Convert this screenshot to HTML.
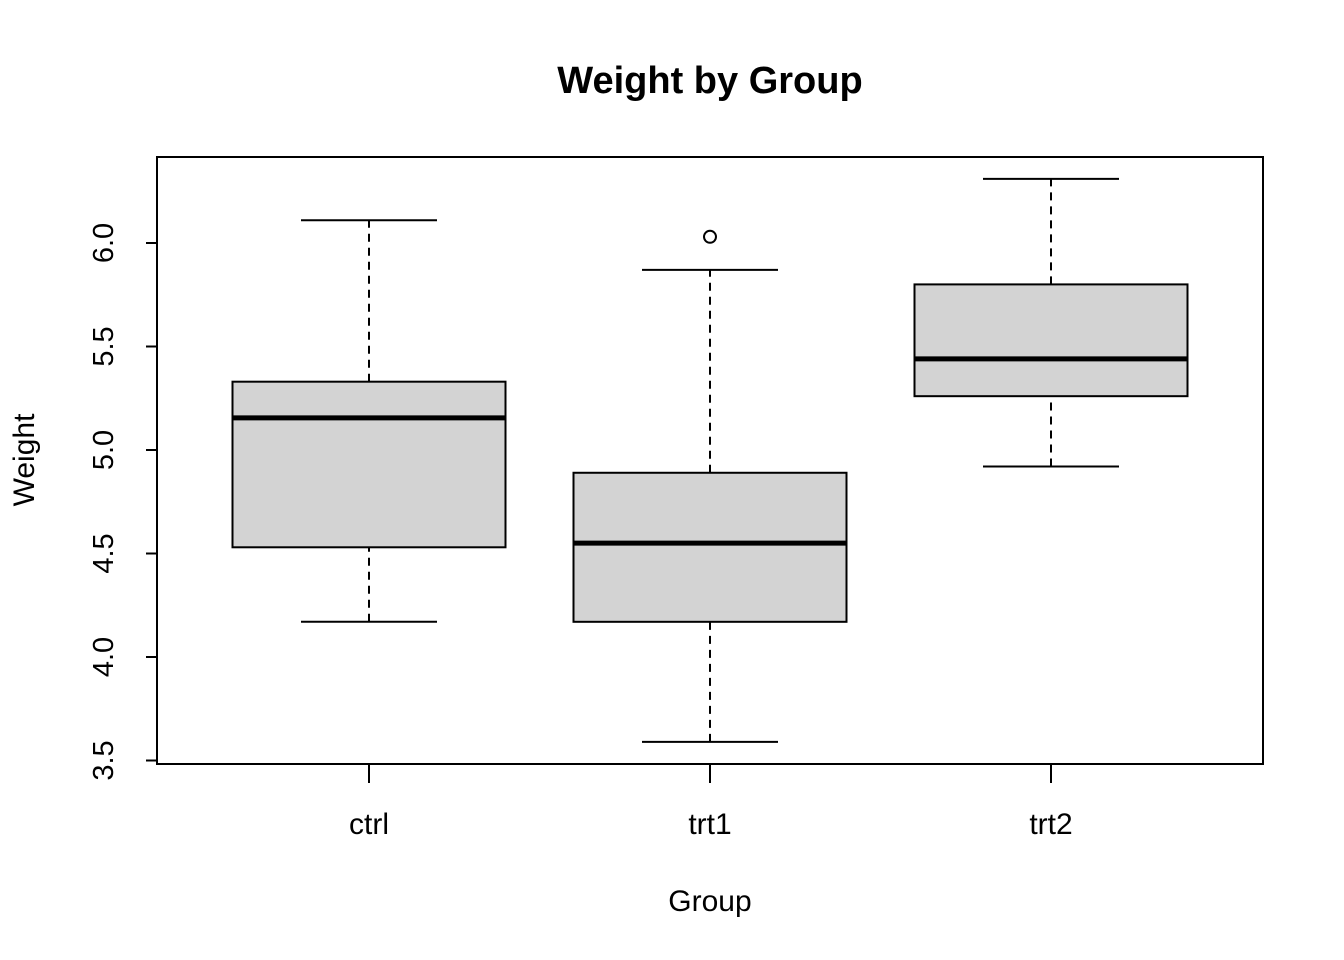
<!DOCTYPE html>
<html><head><meta charset="utf-8"><style>
html,body{margin:0;padding:0;background:#fff;}
svg{display:block;font-family:"Liberation Sans",Arial,sans-serif;}
</style></head><body>
<svg id="chart" width="1344" height="960" xmlns="http://www.w3.org/2000/svg">
<text x="710" y="93" text-anchor="middle" font-size="38" font-weight="bold">Weight by Group</text>
<rect x="157" y="157" width="1106" height="607" fill="none" stroke="#000" stroke-width="2"/>
<text x="710" y="911" text-anchor="middle" font-size="30">Group</text>
<text transform="translate(34,460) rotate(-90)" text-anchor="middle" font-size="30">Weight</text>
<g id="marks"></g>
</svg>
<script>
const categories = ["ctrl","trt1","trt2"];
const whiskerLow = [4.17, 3.59, 4.92];
const q1 = [4.53, 4.17, 5.26];
const medians = [5.155, 4.55, 5.44];
const q3 = [5.33, 4.89, 5.80];
const whiskerHigh = [6.11, 5.87, 6.31];
const outlierGroup = [1];
const outlierValue = [6.03];
const yTicks = [3.5, 4.0, 4.5, 5.0, 5.5, 6.0];
const yTickLabels = ["3.5","4.0","4.5","5.0","5.5","6.0"];

const NS = "http://www.w3.org/2000/svg";
const g = document.getElementById("marks");
function y(v){ return 657 - (v - 4) * 207; }
function x(i){ return 369 + i * 341; }
function mk(tag, attrs){ const e = document.createElementNS(NS, tag); for (const k in attrs) e.setAttribute(k, attrs[k]); g.appendChild(e); return e; }

yTicks.forEach((t, i) => {
  const l = mk("line", {x1:157, x2:146, y1:y(t), y2:y(t), stroke:"#000", "stroke-width":2});
  
  
  const tx = mk("text", {transform:`translate(113,${y(t)}) rotate(-90)`, "text-anchor":"middle", "font-size":29});
  tx.textContent = yTickLabels[i];
  
  
});

categories.forEach((c, i) => {
  const cx = x(i), hw = 136.5, cw = 68;
  const tk = mk("line", {x1:cx, x2:cx, y1:764, y2:783, stroke:"#000", "stroke-width":2});
  
  
  const lb = mk("text", {x:cx, y:834, "text-anchor":"middle", "font-size":30});
  lb.textContent = c;
  
  
  const w1 = mk("line", {x1:cx, x2:cx, y1:y(whiskerLow[i]), y2:y(q1[i]), stroke:"#000", "stroke-width":2, "stroke-dasharray":"8,6"});
  
  
  const w2 = mk("line", {x1:cx, x2:cx, y1:y(q3[i]), y2:y(whiskerHigh[i]), stroke:"#000", "stroke-width":2, "stroke-dasharray":"8,6"});
  
  
  const c1 = mk("line", {x1:cx-cw, x2:cx+cw, y1:y(whiskerLow[i]), y2:y(whiskerLow[i]), stroke:"#000", "stroke-width":2});
  
  
  const c2 = mk("line", {x1:cx-cw, x2:cx+cw, y1:y(whiskerHigh[i]), y2:y(whiskerHigh[i]), stroke:"#000", "stroke-width":2});
  
  
  const b = mk("rect", {x:cx-hw, y:y(q3[i]), width:2*hw, height:y(q1[i])-y(q3[i]), fill:"#d3d3d3", stroke:"#000", "stroke-width":2});
  
  
  const m = mk("line", {x1:cx-hw, x2:cx+hw, y1:y(medians[i]), y2:y(medians[i]), stroke:"#000", "stroke-width":5});
  
  
});

outlierGroup.forEach((gi, k) => {
  const o = mk("circle", {cx:x(gi), cy:y(outlierValue[k]), r:6, fill:"none", stroke:"#000", "stroke-width":2});
  
  
});
</script>
</body></html>
